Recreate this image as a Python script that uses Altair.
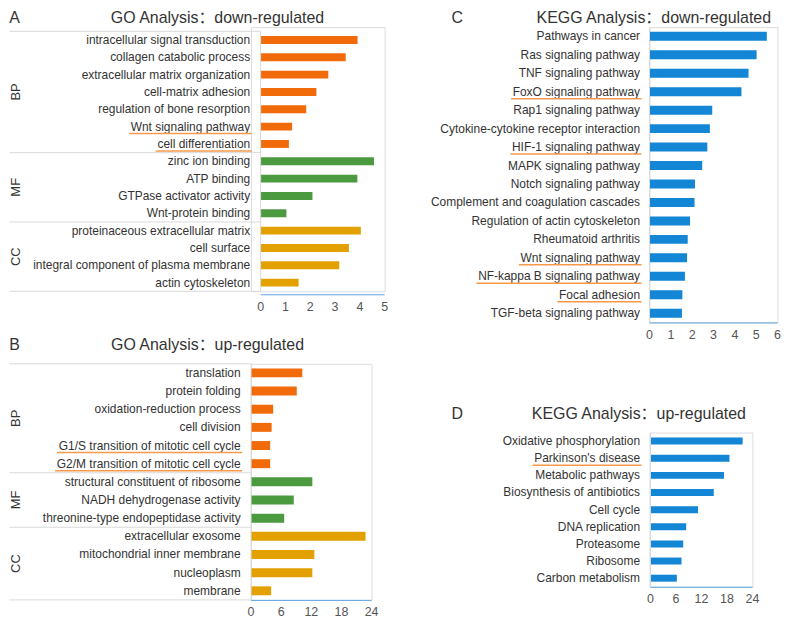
import altair as alt
import pandas as pd

# ---------------- data ----------------
group_order = ["BP", "MF", "CC"]

go_down_terms = [
    "intracellular signal transduction", "collagen catabolic process",
    "extracellular matrix organization", "cell-matrix adhesion",
    "regulation of bone resorption", "Wnt signaling pathway", "cell differentiation",
    "zinc ion binding", "ATP binding", "GTPase activator activity", "Wnt-protein binding",
    "proteinaceous extracellular matrix", "cell surface",
    "integral component of plasma membrane", "actin cytoskeleton",
]
go_down_values = [3.91, 3.43, 2.73, 2.25, 1.84, 1.27, 1.14,
                  4.57, 3.90, 2.09, 1.04,
                  4.04, 3.56, 3.17, 1.53]
go_down_groups = ["BP"] * 7 + ["MF"] * 4 + ["CC"] * 4
go_down_underlined = ["Wnt signaling pathway", "cell differentiation"]
go_down_ticks = [0, 1, 2, 3, 4, 5]

go_up_terms = [
    "translation", "protein folding", "oxidation-reduction process", "cell division",
    "G1/S transition of mitotic cell cycle", "G2/M transition of mitotic cell cycle",
    "structural constituent of ribosome", "NADH dehydrogenase activity",
    "threonine-type endopeptidase activity",
    "extracellular exosome", "mitochondrial inner membrane", "nucleoplasm", "membrane",
]
go_up_values = [10.2, 9.1, 4.4, 4.1, 3.8, 3.8,
                12.2, 8.5, 6.6,
                22.8, 12.6, 12.2, 4.0]
go_up_groups = ["BP"] * 6 + ["MF"] * 3 + ["CC"] * 4
go_up_underlined = ["G1/S transition of mitotic cell cycle", "G2/M transition of mitotic cell cycle"]
go_up_ticks = [0, 6, 12, 18, 24]

kegg_down_terms = [
    "Pathways in cancer", "Ras signaling pathway", "TNF signaling pathway",
    "FoxO signaling pathway", "Rap1 signaling pathway",
    "Cytokine-cytokine receptor interaction", "HIF-1 signaling pathway",
    "MAPK signaling pathway", "Notch signaling pathway",
    "Complement and coagulation cascades", "Regulation of actin cytoskeleton",
    "Rheumatoid arthritis", "Wnt signaling pathway", "NF-kappa B signaling pathway",
    "Focal adhesion", "TGF-beta signaling pathway",
]
kegg_down_values = [5.50, 5.02, 4.64, 4.31, 2.94, 2.83, 2.71, 2.47, 2.13, 2.11,
                    1.90, 1.79, 1.76, 1.66, 1.54, 1.52]
kegg_down_underlined = ["FoxO signaling pathway", "HIF-1 signaling pathway",
                        "Wnt signaling pathway", "NF-kappa B signaling pathway",
                        "Focal adhesion"]
kegg_down_ticks = [0, 1, 2, 3, 4, 5, 6]

kegg_up_terms = [
    "Oxidative phosphorylation", "Parkinson's disease", "Metabolic pathways",
    "Biosynthesis of antibiotics", "Cell cycle", "DNA replication", "Proteasome",
    "Ribosome", "Carbon metabolism",
]
kegg_up_values = [21.7, 18.6, 17.3, 14.9, 11.2, 8.4, 7.7, 7.3, 6.2]
kegg_up_underlined = ["Parkinson's disease"]
kegg_up_ticks = [0, 6, 12, 18, 24]

titles = ["GO Analysis：down-regulated", "GO Analysis：up-regulated",
          "KEGG Analysis：down-regulated", "KEGG Analysis：up-regulated"]
letters = ["A", "B", "C", "D"]

# ---------------- style ----------------
FONT = "Liberation Sans, Arial, Noto Sans CJK SC, sans-serif"
ORANGE = "#F26B0B"
GREEN = "#4C9A3F"
GOLD = "#E2A100"
BLUE = "#1386D6"
AXIS_BLUE = "#5EA3E2"
GREY_LINE = "#D9D9D9"
UL_COLOR = "#F7994A"
TEXT = "#333333"
TICK_TEXT = "#555555"
LABEL_SIZE = 12

# Arial / Liberation Sans advance widths (1/1000 em), used to size the underlines
AW = {" ": 278, "'": 191, "-": 333, "/": 278, ".": 278,
      "A": 667, "B": 667, "C": 722, "D": 722, "E": 667, "F": 611, "G": 778, "H": 722,
      "I": 278, "J": 500, "K": 667, "L": 556, "M": 833, "N": 722, "O": 778, "P": 667,
      "Q": 778, "R": 722, "S": 667, "T": 611, "U": 722, "V": 667, "W": 944, "X": 667,
      "Y": 667, "Z": 611,
      "a": 556, "b": 556, "c": 500, "d": 556, "e": 556, "f": 278, "g": 556, "h": 556,
      "i": 222, "j": 222, "k": 500, "l": 222, "m": 833, "n": 556, "o": 556, "p": 556,
      "q": 556, "r": 333, "s": 500, "t": 278, "u": 556, "v": 500, "w": 722, "x": 500,
      "y": 500, "z": 500}


def text_w(s, size=LABEL_SIZE):
    return sum(AW.get(c, 556) for c in s) * size / 1000.0


def make_panel(terms, values, groups, colors, xmax, xticks, plot_w, step, bar_size,
               origin, zero_px, y_top, frame, title, title_cx, title_base, letter, letter_x,
               underlined, show_groups=False, group_cx=15, axis_offset=0, label_pad=10):
    """origin = absolute top-left of the view; zero_px / y_top = where the plot starts in it."""
    X0, Y0 = origin
    n = len(terms)
    H = n * step
    view_w = plot_w + zero_px
    view_h = H + y_top
    k = xmax / plot_w  # data units per pixel
    df = pd.DataFrame({"term": terms, "value": values, "group": groups})
    yq = alt.Scale(domain=[0, n], range=[y_top, y_top + H], nice=False, zero=False)
    xs = alt.Scale(domain=[-zero_px * k, xmax], nice=False, zero=False)
    one = pd.DataFrame({"k": [0]})
    fx1, fy1, fx2, fy2 = frame
    ax_y = view_h + axis_offset
    layers = []

    # invisible frame fixing the panel's bounds in the concat layout
    layers.append(alt.Chart(one).mark_rect(opacity=0).encode(
        x=alt.value(fx1 - X0), x2=alt.value(fx2 - X0),
        y=alt.value(fy1 - Y0), y2=alt.value(fy2 - Y0)))

    gdom = [g for g in group_order if g in groups]
    if len(colors) > 1:
        color_enc = alt.Color("group:N", scale=alt.Scale(domain=gdom, range=colors), legend=None)
    else:
        color_enc = alt.value(colors[0])
    bars = alt.Chart(df).mark_bar(size=bar_size).encode(
        y=alt.Y("term:N", sort=terms,
                scale=alt.Scale(paddingInner=0, paddingOuter=0, range=[y_top, y_top + H]),
                axis=alt.Axis(title=None, ticks=False, tickSize=0, domain=False,
                              labelPadding=label_pad - zero_px,
                              labelFontSize=LABEL_SIZE, labelColor=TEXT, labelFont=FONT,
                              labelLimit=400)),
        x=alt.X("value:Q", scale=xs,
                axis=alt.Axis(values=xticks, title=None, grid=False, domain=False, labels=False,
                              tickColor=AXIS_BLUE, tickSize=4, tickWidth=1,
                              offset=axis_offset)),
        color=color_enc,
    )
    layers.append(bars)

    # y axis line (light grey) at x = 0
    layers.append(alt.Chart(one).mark_rule(color=GREY_LINE, strokeWidth=1).encode(
        x=alt.value(zero_px), y=alt.value(y_top), y2=alt.value(y_top + H)))
    # x axis line (blue) from 0 to xmax
    layers.append(alt.Chart(one).mark_rule(color=AXIS_BLUE, strokeWidth=1).encode(
        x=alt.value(zero_px), x2=alt.value(zero_px + plot_w), y=alt.value(ax_y + 0.5)))
    # x tick labels placed through the x scale
    tdf = pd.DataFrame({"t": xticks})
    layers.append(alt.Chart(tdf).mark_text(fontSize=12.5, font=FONT, color=TICK_TEXT,
                                           align="center", baseline="top").encode(
        x=alt.X("t:Q", scale=xs, axis=None), y=alt.value(ax_y + 6.5),
        text=alt.Text("t:Q", format="d")))

    if show_groups:
        bounds, mids, c = [0], [], 0
        for g in gdom:
            cnt = groups.count(g)
            mids.append(c + cnt / 2.0)
            c += cnt
            bounds.append(c)
        sep = pd.DataFrame({"pos": bounds})
        layers.append(alt.Chart(sep).mark_rule(color=GREY_LINE, strokeWidth=1).encode(
            y=alt.Y("pos:Q", scale=yq, axis=None),
            x=alt.value(fx1 - X0), x2=alt.value(zero_px)))
        gl = pd.DataFrame({"grp": gdom, "mid": mids})
        layers.append(alt.Chart(gl).mark_text(angle=270, fontSize=13, font=FONT, color=TEXT,
                                              align="center", baseline="middle").encode(
            y=alt.Y("mid:Q", scale=yq, axis=None),
            x=alt.value(group_cx - X0), text="grp:N"))

    for t in underlined:
        r = terms.index(t)
        udf = pd.DataFrame({"uy": [r + 0.5 + 7.0 / step]})
        layers.append(alt.Chart(udf).mark_rule(color=UL_COLOR, strokeWidth=1.5).encode(
            y=alt.Y("uy:Q", scale=yq, axis=None),
            x=alt.value(zero_px - (label_pad + text_w(t) + 1)),
            x2=alt.value(zero_px - (label_pad - 2))))

    layers.append(alt.Chart(one).mark_text(fontSize=16, font=FONT, color=TEXT,
                                           align="center", baseline="alphabetic").encode(
        x=alt.value(title_cx - X0), y=alt.value(title_base - Y0), text=alt.value(title)))
    layers.append(alt.Chart(one).mark_text(fontSize=16, font=FONT, color=TEXT,
                                           align="left", baseline="alphabetic").encode(
        x=alt.value(letter_x - X0), y=alt.value(title_base - Y0), text=alt.value(letter)))

    return alt.layer(*layers).resolve_scale(y="independent").properties(width=view_w, height=view_h)


XL = 250.7   # shared view origin (x) of the left column
XR = 648.7   # shared view origin (x) of the right column
YT = 25.4    # shared view origin (y) of the top row

panel_a = make_panel(go_down_terms, go_down_values, go_down_groups, [ORANGE, GREEN, GOLD],
                     5, go_down_ticks, 124.5, 17.4, 8,
                     (XL, YT), 9.6, 4.2, (8, 8, 395, 325), titles[0], 217, 21, letters[0], 8,
                     go_down_underlined, show_groups=True, group_cx=15, axis_offset=3,
                     label_pad=11)
panel_b = make_panel(go_up_terms, go_up_values, go_up_groups, [ORANGE, GREEN, GOLD],
                     24, go_up_ticks, 121, 18.23, 9,
                     (XL, 361), 0, 0, (8, 325, 395, 617), titles[1], 207, 347, letters[1], 8,
                     go_up_underlined, show_groups=True, group_cx=15, label_pad=11)
panel_c = make_panel(kegg_down_terms, kegg_down_values, ["KEGG"] * len(kegg_down_terms), [BLUE],
                     6, kegg_down_ticks, 128.5, 18.53, 9,
                     (XR, YT), 0, 0, (395, 8, 781, 395), titles[2], 653, 21, letters[2], 450,
                     kegg_down_underlined, label_pad=10)
panel_d = make_panel(kegg_up_terms, kegg_up_values, ["KEGG"] * len(kegg_up_terms), [BLUE],
                     24, kegg_up_ticks, 102.3, 17.2, 7,
                     (XR, 429.7), 1.0, 0, (395, 395, 781, 617), titles[3], 638, 416, letters[3], 450,
                     kegg_up_underlined, label_pad=11)

left = alt.vconcat(panel_a, panel_b, spacing=0)
right = alt.vconcat(panel_c, panel_d, spacing=0)
chart = (alt.hconcat(left, right, spacing=0)
         .properties(padding=0, background="white")
         .configure_view(stroke="transparent")
         .configure(font=FONT))

chart.save("out.html", embed_options={"renderer": "svg", "actions": False})
